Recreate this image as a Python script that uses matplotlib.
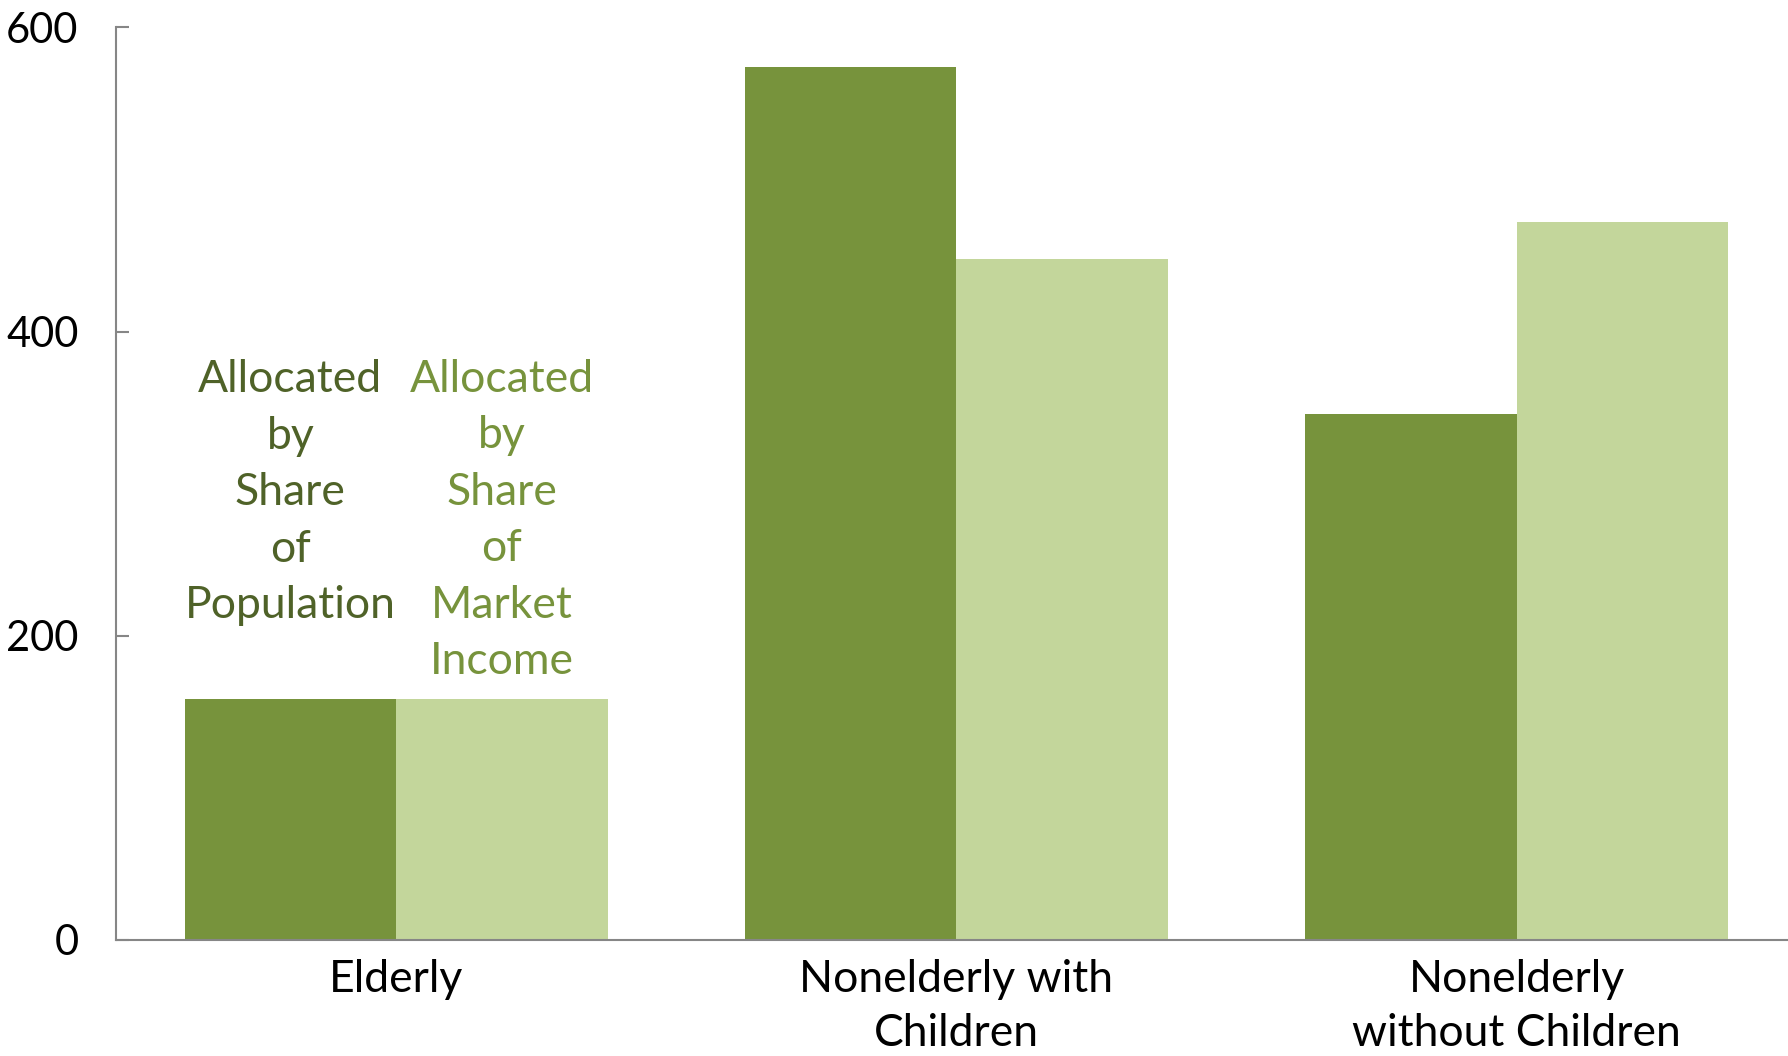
import matplotlib

matplotlib.use("Agg")
import matplotlib.pyplot as plt
import numpy as np

CATEGORIES = ["Elderly", "Nonelderly with\nChildren", "Nonelderly\nwithout Children"]
POPULATION = [158, 574, 346]
MARKET_INCOME = [158, 448, 472]
SERIES_LABELS = ["Allocated\nby\nShare\nof\nPopulation", "Allocated\nby\nShare\nof\nMarket\nIncome"]
Y_TICKS = [0, 200, 400, 600]

DARK = "#77933C"
LIGHT = "#C3D69B"
DARK_TEXT = "#4F6228"
LIGHT_TEXT = "#77933C"
AXIS = "#868686"

plt.rcParams["font.family"] = ["Lato", "DejaVu Sans"]

fig = plt.figure(figsize=(17.88, 10.56), dpi=100)
ax = fig.add_axes([0.0649, 0.1102, 0.940, 0.8638])

x = np.arange(len(CATEGORIES))
width = 0.3775
ax.bar(x - width / 2, POPULATION, width, color=DARK, zorder=2)
ax.bar(x + width / 2, MARKET_INCOME, width, color=LIGHT, zorder=2)

ax.set_xlim(-0.5, len(CATEGORIES) - 0.5)
ax.set_ylim(0, 600)
ax.set_yticks(Y_TICKS)
ax.set_xticks(x)
ax.set_xticklabels(CATEGORIES, fontsize=32, linespacing=1.4)
ax.tick_params(axis="x", length=0, pad=14)
ax.tick_params(axis="y", direction="in", length=9, width=1.5, color=AXIS,
               labelsize=30, pad=27)

for side in ("top", "right"):
    ax.spines[side].set_visible(False)
for side in ("left", "bottom"):
    ax.spines[side].set_color(AXIS)
    ax.spines[side].set_linewidth(1.5)

# inline series labels over the first group
ax.text(x[0] - width / 2, 294, SERIES_LABELS[0], color=DARK_TEXT, fontsize=32,
        ha="center", va="center", multialignment="center", linespacing=1.47)
ax.text(x[0] + width / 2, 275.6, SERIES_LABELS[1], color=LIGHT_TEXT, fontsize=32,
        ha="center", va="center", multialignment="center", linespacing=1.47)

fig.savefig("out.png", dpi=100)
